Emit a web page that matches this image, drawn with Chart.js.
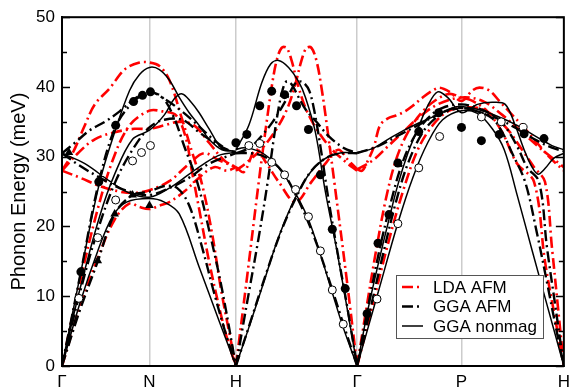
<!DOCTYPE html>
<html><head><meta charset="utf-8">
<script src="https://cdn.jsdelivr.net/npm/chart.js@4.4.1/dist/chart.umd.min.js"></script>
<style>html,body{margin:0;padding:0;background:#fff;overflow:hidden}#wrap{width:576px;height:387px}</style>
</head><body><div id="wrap"><canvas id="c" width="576" height="387"></canvas></div>
<script>
// path positions of high-symmetry points (path length, arbitrary units)
const kTicks = [0, 88, 175, 297, 402, 505];
const kLabels = ['\u0393', 'N', 'H', '\u0393', 'P', 'H'];
const yMajor = [0, 10, 20, 30, 40, 50];
const yMinor = [5, 15, 25, 35, 45];

// GGA nonmagnetic branches: [pathPos, meV]
const ggaNonmag = [
  [[0,0],[19,13.5],[38,26.4],[53,33.5],[68,39.5],[78,41.8],[88,42.8],[98,42.5],[108,41],[118,38.5],[128,36.3],[138,34.5],[148,32.5],[161,31],[175,30.8]],
  [[0,0],[18,11],[38,21.5],[53,27.5],[71,32.5],[88,33.8],[103,36],[113,38.3],[121,39],[130,37.8],[138,36.3],[148,34],[161,31.2],[175,30.8]],
  [[0,0],[18,9],[36,16.5],[51,21.5],[65,23.5],[88,24],[103,23.5],[118,21.8],[138,14.2],[158,6.5],[175,0]],
  [[0,30.5],[23,29],[48,26.5],[68,24.8],[88,24.2],[108,25.5],[128,27.5],[145,29.2],[160,30.3],[175,30.6]],
  [[175,31],[188,34.5],[201,40.6],[210,43.3],[218,43.8],[228,42.8],[238,40.8],[245,38.5],[255,33.5],[265,25],[276,17],[286,9],[297,0]],
  [[175,0],[188,5.5],[203,12],[218,18.5],[236,24.5],[253,28.3],[268,30],[283,30.6],[297,30.5]],
  [[175,31],[183,31.3],[198,30.8],[211,29.5],[223,27.5],[236,24.5],[248,21],[260,16],[272,10.5],[283,5.5],[297,0]],
  [[297,0],[318,10.5],[338,20.5],[353,27],[368,32],[383,35.3],[402,36.6],[418,36.2],[433,34],[445,31],[458,24.5],[473,16.6],[488,8.8],[505,0]],
  [[297,0],[307,7.5],[318,14.5],[329,21],[338,26],[348,30.5],[358,34],[368,37.3],[378,39.3],[388,38.5],[402,36.3],[418,37.5],[433,37.8],[446,37.5],[456,34.5],[465,31],[473,28.5],[479,27.5],[486,28.3],[495,29.8],[505,30.5]],
  [[297,30.6],[313,31.2],[328,32.5],[343,33.7],[360,34.9],[378,36],[393,37],[402,37.2],[418,36.8],[438,35.8],[458,34.5],[478,32.8],[493,31.6],[505,31]]
];

// GGA antiferromagnetic branches
const ggaAFM = [
  [[0,0],[19,13.5],[37,26.3],[54,34.3],[72,37.9],[88,39.2],[101,38.5],[113,35.5],[123,31.5],[136,26.4],[148,19.5],[161,11],[175,0]],
  [[0,0],[18,10.5],[36,19.5],[54,26.5],[71,31],[88,34.2],[103,35.3],[121,35.3],[138,33.5],[158,31.6],[175,30.5]],
  [[0,0],[18,8],[36,15],[53,21.8],[71,24.5],[88,25],[103,25.8],[116,25.5],[128,23],[141,17],[153,10.5],[164,5],[175,0]],
  [[0,30.5],[18,28.7],[38,27],[58,25.5],[73,24.8],[88,24.5],[108,25.5],[128,27],[148,29],[175,30.5]],
  [[0,30.5],[13,32],[28,33.8],[43,35],[58,36.5],[73,38.3],[88,39.3],[103,38.3],[118,36.8],[133,35],[148,33],[163,31.3],[175,30.5]],
  [[175,0],[188,10.5],[198,18.5],[207,26.4],[213,32.5],[218,37],[222,39.6],[226,40.8],[231,40.4],[237,38.8],[245,36.8],[256,35],[268,33],[283,31.3],[297,30.5]],
  [[175,30.5],[189,31.3],[201,33],[212,35],[220,36.8],[228,38.8],[234,40.4],[239,40.8],[244,40.5],[249,39.4],[254,36.5],[260,31.5],[268,24],[277,16.5],[287,8.5],[297,0]],
  [[175,0],[190,6.5],[206,13.5],[221,19.5],[236,24.3],[251,28],[268,30],[283,30.5],[297,30.5]],
  [[175,30.5],[190,30.5],[204,30],[221,28],[236,24.3],[251,19.5],[266,13.5],[282,6.5],[297,0]],
  [[297,0],[310,8],[323,16],[336,23.5],[348,29],[363,33.5],[378,35.8],[390,36.8],[402,37],[418,36.5],[433,35.5],[443,33.5],[453,30.5],[466,26.4],[478,19],[488,12],[497,5.5],[505,0]],
  [[297,0],[308,8.5],[320,17],[331,23.5],[341,28.5],[353,32.5],[368,35.5],[383,37],[402,37.5],[418,37],[433,36],[445,34.5],[458,31.5],[468,28.5],[480,26.4],[488,17],[496,9],[505,0]],
  [[297,30.5],[318,31.5],[338,33],[358,34.5],[378,36],[402,37],[418,36.5],[438,35.5],[458,34],[478,32.3],[493,31.3],[505,30.8]]
];

// LDA antiferromagnetic branches
const ldaAFM = [
  [[0,28],[11,30.6],[23,34.5],[33,37.5],[48,39.8],[63,42.5],[78,43.5],[88,43.5],[98,43],[108,41],[121,35.3],[131,30.6],[141,26],[151,19],[160,11],[168,5],[175,0]],
  [[0,0],[18,12],[35,22],[51,29.5],[68,34.5],[88,36.6],[101,36.5],[115,35.9],[125,32.5],[130,28.5],[138,22.5],[148,15],[158,8.5],[166,4],[175,0]],
  [[0,0],[18,8.5],[36,15.5],[53,21],[68,23.3],[78,22.8],[88,22.5],[98,23],[108,23.5],[123,25],[138,27],[153,28.5],[166,28],[175,28.5]],
  [[0,28],[18,27],[38,25.8],[58,25],[73,24.8],[88,25.2],[108,26.5],[128,29],[143,30.5],[158,29.5],[175,28.5]],
  [[0,28],[16,30.5],[33,32.5],[53,33.5],[73,34],[88,34],[103,34.5],[118,35],[133,34.5],[148,32],[163,29.5],[175,28.5]],
  [[175,0],[186,12.5],[198,26.4],[205,34],[211,40],[216,43.8],[221,45.6],[226,45.6],[231,43.8],[237,40.5],[245,37],[256,34],[270,31.3],[285,29.3],[297,28]],
  [[175,28],[187,29.3],[202,31.3],[216,34],[227,37],[235,40.5],[241,43.8],[246,45.6],[251,45.6],[256,43.8],[261,40],[267,34],[274,26.4],[286,13],[297,0]],
  [[175,28.5],[183,27.8],[195,31],[206,29],[218,26.4],[235,23.5],[251,26.4],[265,29],[278,31],[288,29.5],[297,28.2]],
  [[297,28.2],[302,28],[308,29.5],[314,31.5],[320,34.5],[328,35.5],[336,35.9],[345,36.5],[353,37.3],[363,38.5],[373,39.5],[380,39.9],[390,39.3],[402,38],[413,39.5],[420,39.9],[430,39.5],[440,38],[453,36],[466,34],[478,32],[490,30],[505,28]],
  [[297,28.2],[313,29.5],[328,31.5],[343,33.5],[358,35.5],[378,37.5],[402,38.5],[423,38],[443,36],[463,33.5],[483,31],[505,28.5]],
  [[297,0],[306,8],[316,16.5],[326,24],[336,29.5],[348,33.5],[363,36.5],[378,38.3],[390,39],[402,38.5],[413,38],[428,36.5],[443,33.5],[458,29],[475,26.4],[486,15],[496,7],[505,0]],
  [[297,0],[313,9],[328,17.5],[343,25],[358,31],[373,34.5],[388,36.5],[402,37],[418,37],[433,36],[448,34],[463,31],[475,28.5],[486,26.4],[493,17],[499,8.5],[505,0]]
];

// experimental points
const expFilled = [[19,13.5],[37,26.4],[54,34.5],[72,37.9],[81,38.8],[89,39.3],
  [175,32],[186,33.2],[199,37.3],[211,39.4],[224,38.9],[236,37.3],[248,33.9],[260,27.4],[272,19.6],[285,11.1],
  [307,7.5],[318,17.6],[329,21.7],[338,29.1],[359,33.6],[379,36.3],[402,34.2],[422,32.3],[440,33.2],[465,33.3],[485,32.6]];
const expOpen = [[17,9.7],[36,18.4],[54,23.8],[71,29.4],[80,30.6],[89,31.6],
  [188,31.6],[199,31.9],[211,29.2],[224,27.4],[235,25.3],[248,21.4],[260,16.5],[272,10.9],[283,6],
  [317,9.6],[338,20.4],[359,28.4],[380,32.9],[422,35.7],[442,35],[464,34.2]];
const expTriangle = [[7,30.6],[36,15.1],[53,21.8],[71,24.5],[88,23]];

function toData(branches) {
  const out = [];
  branches.forEach((b, i) => {
    if (i) out.push({x: b[0][0], y: null});
    b.forEach(p => out.push({x: p[0], y: p[1]}));
  });
  return out;
}
const pts = a => a.map(p => ({x: p[0], y: p[1]}));

const FONT = "'Liberation Sans', Arial, Helvetica, sans-serif";

const framePlugin = {
  id: 'frame',
  afterDatasetsDraw(chart) {
    const {ctx, chartArea: a, scales: {y}} = chart;
    ctx.save();
    ctx.strokeStyle = '#000';
    ctx.lineWidth = 1.5;
    const tick = (v, len) => {
      const py = Math.round(y.getPixelForValue(v)) + 0.5;
      ctx.beginPath();
      ctx.moveTo(a.left, py); ctx.lineTo(a.left + len, py);
      ctx.moveTo(a.right, py); ctx.lineTo(a.right - len, py);
      ctx.stroke();
    };
    yMajor.forEach(v => tick(v, 8));
    yMinor.forEach(v => tick(v, 5));
    ctx.lineWidth = 2;
    ctx.strokeRect(a.left, a.top, a.right - a.left, a.bottom - a.top);
    // legend
    const lx = 396, ly = 275, lw = 147, lh = 63;
    ctx.fillStyle = '#fff';
    ctx.fillRect(lx, ly, lw, lh);
    ctx.lineWidth = 1;
    ctx.strokeStyle = '#555';
    ctx.strokeRect(lx + 0.5, ly + 0.5, lw, lh);
    const items = chart.data.datasets.filter(d => d.legendRow !== undefined);
    items.forEach(d => {
      const ry = ly + 12 + d.legendRow * 19.5;
      ctx.beginPath();
      ctx.setLineDash(d.borderDash || []);
      ctx.strokeStyle = d.borderColor;
      ctx.lineWidth = d.borderWidth;
      ctx.moveTo(lx + 6, ry); ctx.lineTo(lx + 27, ry);
      ctx.stroke();
      ctx.setLineDash([]);
      ctx.fillStyle = '#000';
      ctx.font = '17px ' + FONT;
      ctx.textBaseline = 'middle';
      ctx.textAlign = 'left';
      ctx.fillText(d.label, lx + 37, ry + 1);
    });
    ctx.restore();
  }
};

const lineBase = {pointRadius: 0, fill: false, tension: 0.35, spanGaps: false};

new Chart(document.getElementById('c'), {
  type: 'line',
  data: {
    datasets: [
      {type: 'scatter', label: 'exp filled', data: pts(expFilled), pointStyle: 'circle', pointRadius: 4.5, backgroundColor: '#000', borderColor: '#000', borderWidth: 0, order: 0},
      {type: 'scatter', label: 'exp open', data: pts(expOpen), pointStyle: 'circle', pointRadius: 4, backgroundColor: '#fff', borderColor: '#000', borderWidth: 1, order: 0},
      {type: 'scatter', label: 'exp triangle', data: pts(expTriangle), pointStyle: 'triangle', pointRadius: 5, backgroundColor: '#000', borderColor: '#000', borderWidth: 0, order: 0},
      Object.assign({label: 'GGA nonmag', data: toData(ggaNonmag), borderColor: '#000', borderWidth: 1.5, order: 1, legendRow: 2}, lineBase),
      Object.assign({label: 'GGA AFM', data: toData(ggaAFM), borderColor: '#000', borderWidth: 2.4, borderDash: [11, 4, 2, 4], order: 2, legendRow: 1}, lineBase),
      Object.assign({label: 'LDA AFM', data: toData(ldaAFM), borderColor: '#ff0000', borderWidth: 2.6, borderDash: [11, 4, 2, 4], order: 3, legendRow: 0}, lineBase)
    ]
  },
  options: {
    responsive: false,
    animation: false,
    devicePixelRatio: 1,
    events: [],
    layout: {padding: {top: 13, right: 9, left: 0, bottom: 0}},
    plugins: {legend: {display: false}, tooltip: {enabled: false}},
    scales: {
      x: {
        type: 'linear', min: 0, max: 505,
        afterBuildTicks: s => { s.ticks = kTicks.map(v => ({value: v})); },
        afterFit: s => { s.height = 21; },
        ticks: {
          callback: v => { const i = kTicks.indexOf(v); return i >= 0 ? kLabels[i] : ''; },
          font: {family: FONT, size: 17}, color: '#000', padding: 6, maxRotation: 0, autoSkip: false
        },
        grid: {
          drawTicks: false, lineWidth: 1.5,
          color: c => (c.tick && (c.tick.value === 0 || c.tick.value === 505)) ? 'rgba(0,0,0,0)' : '#cccccc'
        },
        border: {display: true, color: '#000', width: 2}
      },
      y: {
        type: 'linear', min: 0, max: 50,
        afterBuildTicks: s => { s.ticks = yMajor.map(v => ({value: v})); },
        afterFit: s => { s.width = 62; },
        ticks: {font: {family: FONT, size: 17}, color: '#000', padding: 7},
        grid: {display: false, drawTicks: false},
        border: {display: true, color: '#000', width: 2},
        title: {display: true, text: 'Phonon Energy (meV)', font: {family: FONT, size: 20}, color: '#000', padding: {top: 7, bottom: 0}}
      }
    }
  },
  plugins: [framePlugin]
});
</script>
</body></html>
